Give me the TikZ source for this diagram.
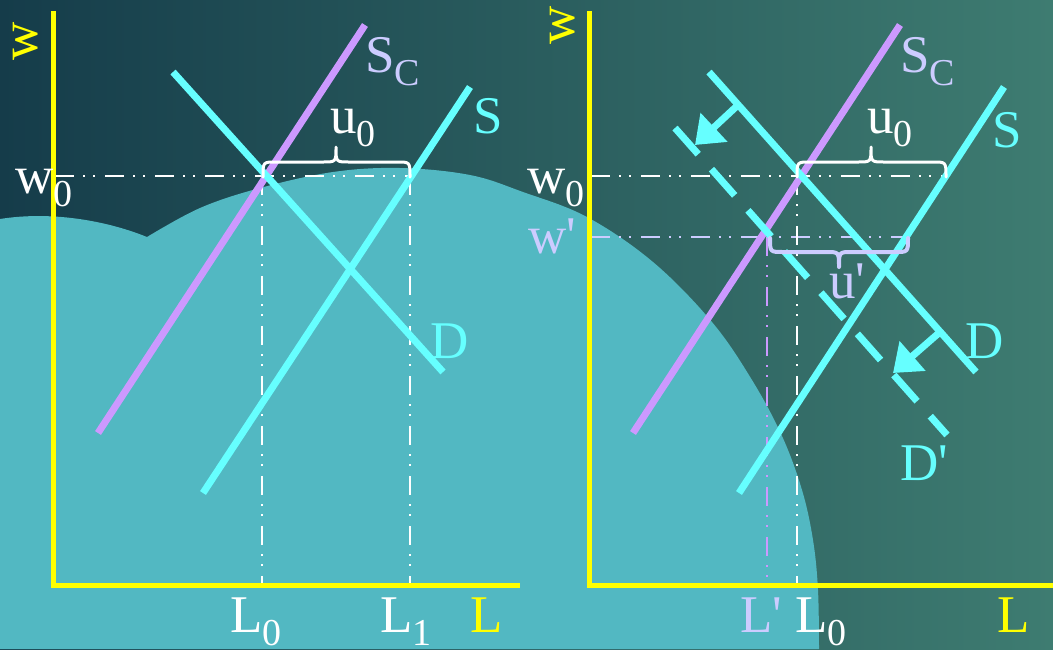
\documentclass[tikz,border=0pt]{standalone}
\usepackage{fontspec}
\setmainfont{Liberation Serif}
\usetikzlibrary{arrows.meta}
\definecolor{bgL}{RGB}{21,60,74}
\definecolor{bgM}{RGB}{50,104,102}
\definecolor{bgR}{RGB}{62,124,113}
\definecolor{blob}{RGB}{82,184,194}
\definecolor{cyanL}{HTML}{66FFFF}
\definecolor{purp}{HTML}{CC99FF}
\definecolor{lav}{HTML}{CCCCFF}
\definecolor{yel}{HTML}{FFFF00}
\newcommand\lsub[1]{\raisebox{-13pt}{\fontsize{38}{40}\selectfont #1}}
\newcommand\pr{\textquotesingle}
\begin{document}
\begin{tikzpicture}[x=1pt,y=-1pt,
  lab/.style={inner sep=0pt,font=\fontsize{53}{60}\selectfont},
  axisline/.style={draw=yel,line width=5pt,line join=miter},
  curve/.style={line width=7pt},
  ddot/.style={line width=2.8pt,dash pattern=on 19pt off 9pt on 2pt off 8pt on 2pt off 10pt},
  bracepath/.style={draw=white,line width=3pt,line cap=round,line join=round},
  shiftarrow/.style={draw=cyanL,fill=cyanL,line width=7pt,-{Triangle[length=26pt,width=38pt]}}
]
\useasboundingbox (0,0) rectangle (1053,649);
% background
\shade[left color=bgL,middle color=bgM,right color=bgR] (0,0) rectangle (1053,649);
\fill[blob] (0,649) -- (0,219) .. controls (50,211) and (105,220) .. (147,237)
  -- plot[smooth,tension=0.6] coordinates {(147,237) (200,208) (260,188) (333,172) (400,168) (470,175) (523,192) (587,217) (653,262) (712,322) (752,380) (782,436) (802,490) (813,540) (818,590) (819,649)}
  -- cycle;

% ---------- coordinates
\coordinate (Ao) at (53,585); \coordinate (Ay) at (53,11); \coordinate (Ax) at (520,585);
\coordinate (Bo) at (589,585); \coordinate (By) at (589,11); \coordinate (Bx) at (1053,585);
\coordinate (aw0s) at (55,176); \coordinate (aw0e) at (410,176);
\coordinate (aL0t) at (262,176); \coordinate (aL0b) at (262,583);
\coordinate (aL1t) at (410,176); \coordinate (aL1b) at (410,583);
\coordinate (bw0s) at (591,176); \coordinate (bw0e) at (946,176);
\coordinate (bwps) at (591,237); \coordinate (bwpe) at (907,237);
\coordinate (bL0t) at (797,176); \coordinate (bL0b) at (797,583);
\coordinate (bLpt) at (767,237); \coordinate (bLpb) at (767,583);

% dash-dot-dot guides
\draw[ddot,white] (aw0s) -- (aw0e);
\draw[ddot,white] (aL0t) -- (aL0b);
\draw[ddot,white] (aL1t) -- (aL1b);
\draw[ddot,white] (bw0s) -- (bw0e);
\draw[ddot,lav] (bwps) -- (bwpe);
\draw[ddot,white] (bL0t) -- (bL0b);
\draw[ddot,purp] (bLpt) -- (bLpb);

% axes
\draw[axisline] (Ay) -- (Ao) -- (Ax);
\draw[axisline] (By) -- (Bo) -- (Bx);

% left curves
\coordinate (aSc1) at (98,433); \coordinate (aSc2) at (365,25);
\coordinate (aD1) at (173,72); \coordinate (aD2) at (443,372);
\coordinate (aS1) at (203,493); \coordinate (aS2) at (470,87);
\draw[curve,purp] (aSc1) -- (aSc2);
\draw[curve,cyanL] (aD1) -- (aD2);
\draw[curve,cyanL] (aS1) -- (aS2);

% right curves
\coordinate (bSc1) at (633,433); \coordinate (bSc2) at (900,25);
\coordinate (bD1) at (709,72); \coordinate (bD2) at (976,372);
\coordinate (bS1) at (739,493); \coordinate (bS2) at (1004,87);
\coordinate (bDp1) at (675,128); \coordinate (bDp2) at (947,435);
\draw[curve,purp] (bSc1) -- (bSc2);
\draw[curve,cyanL] (bD1) -- (bD2);
\draw[curve,cyanL] (bS1) -- (bS2);
\draw[curve,cyanL,dash pattern=on 35pt off 20pt] (bDp1) -- (bDp2);

% shift arrows
\coordinate (ar1s) at (738,105); \coordinate (ar1e) at (695,145);
\coordinate (ar2s) at (940,332); \coordinate (ar2e) at (893,373);
\draw[shiftarrow] (ar1s) -- (ar1e);
\draw[shiftarrow] (ar2s) -- (ar2e);

% braces
\draw[bracepath] (263,177) .. controls (263,162) .. (276,162) -- (323,162)
  .. controls (336,162) .. (336,147) .. controls (336,162) .. (349,162) -- (397,162)
  .. controls (410,162) .. (410,177);
\draw[bracepath] (797,177) .. controls (797,162) .. (810,162) -- (858,162)
  .. controls (871,162) .. (871,147) .. controls (871,162) .. (884,162) -- (933,162)
  .. controls (946,162) .. (946,177);
\draw[bracepath,draw=lav,line width=4pt] (770,238) .. controls (770,252) .. (783,252) -- (826,252)
  .. controls (839,252) .. (839,267) .. controls (839,252) .. (852,252) -- (895,252)
  .. controls (908,252) .. (908,238);

% labels left
\node[lab,text=yel,rotate=90] (lwA) at (26,41) {w};
\node[lab,text=white,anchor=base west] (lw0A) at (15,193) {w\lsub{0}};
\node[lab,text=white,anchor=base west] (lu0A) at (330,133) {u\lsub{0}};
\node[lab,text=lav,anchor=base west] (lScA) at (365,72) {S\lsub{C}};
\node[lab,text=cyanL,anchor=base west] (lSA) at (473,133) {S};
\node[lab,text=cyanL,anchor=base west] (lDA) at (430,358) {D};
\node[lab,text=white,anchor=base west] (lL0A) at (230,632) {L\lsub{0}};
\node[lab,text=white,anchor=base west] (lL1A) at (380,632) {L\lsub{1}};
\node[lab,text=yel,anchor=base west] (lLA) at (470,632) {L};

% labels right
\node[lab,text=yel,rotate=90] (lwB) at (563,25) {w};
\node[lab,text=white,anchor=base west] (lw0B) at (527,193) {w\lsub{0}};
\node[lab,text=lav,anchor=base west] (lwpB) at (528,253) {w\pr};
\node[lab,text=white,anchor=base west] (lu0B) at (867,133) {u\lsub{0}};
\node[lab,text=lav,anchor=base west] (lupB) at (829,298) {u\pr};
\node[lab,text=lav,anchor=base west] (lScB) at (900,72) {S\lsub{C}};
\node[lab,text=cyanL,anchor=base west] (lSB) at (992,147) {S};
\node[lab,text=cyanL,anchor=base west] (lDB) at (965,358) {D};
\node[lab,text=cyanL,anchor=base west] (lDpB) at (900,480) {D\pr};
\node[lab,text=lav,anchor=base west] (lLpB) at (740,632) {L\pr};
\node[lab,text=white,anchor=base west] (lL0B) at (795,632) {L\lsub{0}};
\node[lab,text=yel,anchor=base west] (lLB) at (997,632) {L};
\end{tikzpicture}
\end{document}
